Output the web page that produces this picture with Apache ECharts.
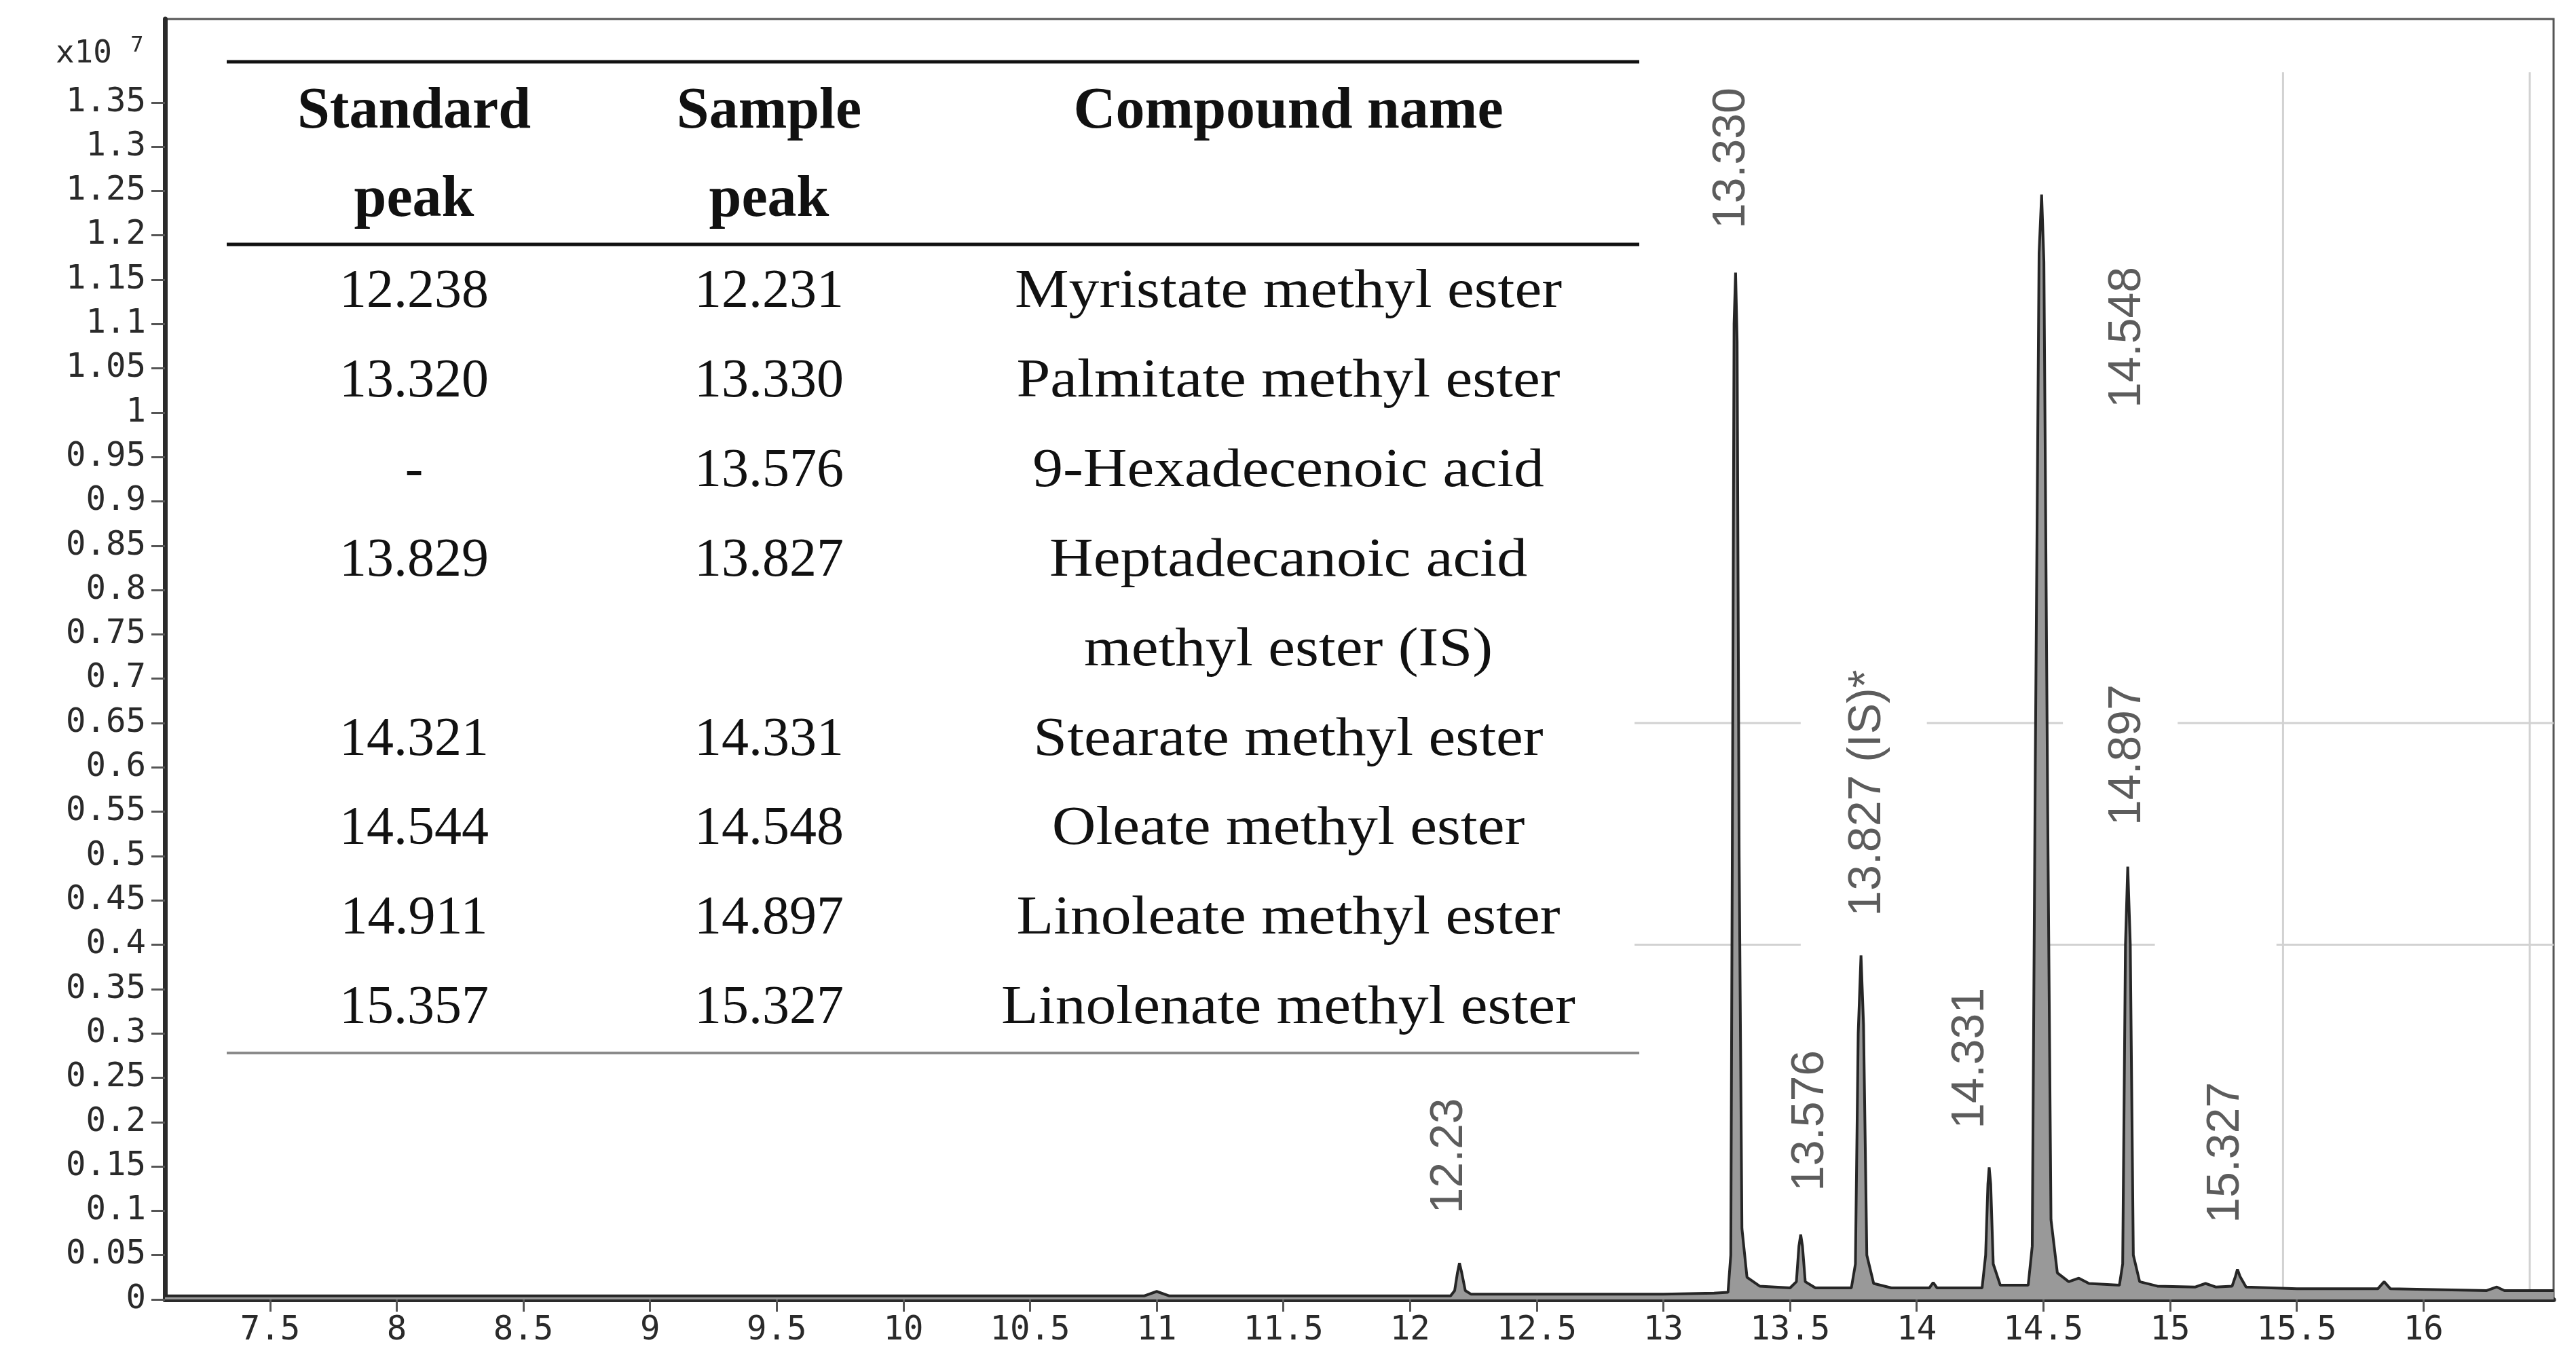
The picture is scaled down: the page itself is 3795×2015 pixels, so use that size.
<!DOCTYPE html>
<html><head><meta charset="utf-8">
<script src="https://cdn.jsdelivr.net/npm/echarts@6/dist/echarts.min.js"></script>
<style>html,body{margin:0;padding:0;background:#fff}#c{width:3795px;height:2015px}</style>
</head><body><div id="c"></div>
<script>
// ---------- DATA ----------
const xTicks = [7.5,8,8.5,9,9.5,10,10.5,11,11.5,12,12.5,13,13.5,14,14.5,15,15.5,16];
const xTickLabels = ['7.5','8','8.5','9','9.5','10','10.5','11','11.5','12','12.5','13','13.5','14','14.5','15','15.5','16'];
const yTicks = [0,0.05,0.1,0.15,0.2,0.25,0.3,0.35,0.4,0.45,0.5,0.55,0.6,0.65,0.7,0.75,0.8,0.85,0.9,0.95,1,1.05,1.1,1.15,1.2,1.25,1.3,1.35];
const yTickLabels = ['0','0.05','0.1','0.15','0.2','0.25','0.3','0.35','0.4','0.45','0.5','0.55','0.6','0.65','0.7','0.75','0.8','0.85','0.9','0.95','1','1.05','1.1','1.15','1.2','1.25','1.3','1.35'];
const yUnitLabel = 'x10';
const yUnitExp = '7';

// chromatogram trace (retention time, intensity x10^7)
const traceTime = [7.085,8.0,9.0,10.0,10.95,11.0,11.05,12.0,12.16,12.176,12.187,12.195,12.204,12.218,12.24,13.0,13.2,13.255,13.266,13.272,13.279,13.285,13.291,13.299,13.31,13.33,13.38,13.5,13.525,13.535,13.542,13.549,13.56,13.6,13.742,13.758,13.769,13.78,13.79,13.803,13.83,13.9,14.05,14.065,14.08,14.258,14.272,14.281,14.286,14.292,14.302,14.33,14.44,14.456,14.468,14.483,14.493,14.502,14.517,14.53,14.555,14.6,14.64,14.68,14.8,14.813,14.824,14.833,14.843,14.855,14.88,14.95,15.1,15.14,15.18,15.245,15.258,15.266,15.276,15.3,15.5,15.82,15.845,15.87,16.25,16.29,16.32,16.514];
const traceIntensity = [0.004,0.004,0.004,0.004,0.004,0.009,0.004,0.004,0.004,0.01,0.03,0.041,0.03,0.01,0.006,0.006,0.007,0.008,0.05,0.5,1.1,1.158,1.08,0.5,0.08,0.025,0.015,0.013,0.02,0.06,0.073,0.06,0.02,0.013,0.013,0.04,0.3,0.388,0.31,0.05,0.018,0.013,0.013,0.019,0.013,0.013,0.05,0.13,0.149,0.13,0.04,0.016,0.016,0.06,0.6,1.18,1.246,1.17,0.55,0.09,0.03,0.02,0.024,0.018,0.016,0.04,0.4,0.488,0.4,0.05,0.02,0.015,0.014,0.018,0.014,0.015,0.026,0.034,0.026,0.014,0.012,0.012,0.02,0.012,0.01,0.014,0.01,0.01];

// peak annotations
const peakLabels = ['12.23','13.330','13.576','13.827 (IS)*','14.331','14.548','14.897','15.327'];
const peakLabelTime = [12.155,13.27,13.582,13.807,14.212,14.833,14.833,15.221];
const peakLabelHeight = [0.162,1.287,0.2015,0.571,0.272,1.085,0.614,0.1655];

// remaining grid lines
const hGridValues = [0.65, 0.4];
const hGridSegments = [
  [[12.886,13.542],[14.04,14.577],[15.03,16.514]],
  [[12.886,13.542],[14.5,14.94],[15.42,16.514]]
];
const vGridValues = [15.446, 16.42];
const vGridTop = 1.384;

// table
const headerRow1 = ['Standard','Sample','Compound name'];
const headerRow2 = ['peak','peak',''];
const standardPeaks = ['12.238','13.320','-','13.829','','14.321','14.544','14.911','15.357'];
const samplePeaks = ['12.231','13.330','13.576','13.827','','14.331','14.548','14.897','15.327'];
const compoundNames = ['Myristate methyl ester','Palmitate methyl ester','9-Hexadecenoic acid','Heptadecanoic acid','methyl ester (IS)','Stearate methyl ester','Oleate methyl ester','Linoleate methyl ester','Linolenate methyl ester'];

// ---------- CHART ----------
const chart = echarts.init(document.getElementById('c'), null, {renderer:'canvas'});
const mono = '"DejaVu Sans Mono", monospace';
const serif = '"Liberation Serif", "Times New Roman", serif';
const sans = '"Liberation Sans", Arial, sans-serif';

function lbl(list, vals){ return v => { const i = vals.findIndex(t => Math.abs(t - v) < 1e-6); return i >= 0 ? list[i] : ''; }; }

const series = [];
hGridValues.forEach((y, k) => {
  hGridSegments[k].forEach(seg => {
    series.push({type:'line', data:[[seg[0], y],[seg[1], y]], symbol:'none', silent:true, z:1,
      lineStyle:{color:'#d2d2d2', width:3}});
  });
});
vGridValues.forEach(x => {
  series.push({type:'line', data:[[x, 0],[x, vGridTop]], symbol:'none', silent:true, z:1,
    lineStyle:{color:'#d2d2d2', width:3}});
});
series.push({
  type:'line', data: traceTime.map((t,i)=>[t, traceIntensity[i]]), symbol:'none', sampling:'none',
  z:3, lineStyle:{color:'#262626', width:4}, areaStyle:{color:'#999', opacity:1}
});
series.push({
  type:'scatter', data: peakLabelTime.map((t,i)=>[t, peakLabelHeight[i]]), symbolSize:0, z:4, silent:true,
  label:{show:true, position:'inside', rotate:90, formatter: p => peakLabels[p.dataIndex],
    fontFamily:sans, fontSize:68, color:'#333'}
});

const G = [];
const T_LEFT = 334, T_RIGHT = 2415;
G.push({type:'line', shape:{x1:T_LEFT,y1:91,x2:T_RIGHT,y2:91}, style:{stroke:'#111', lineWidth:5}});
G.push({type:'line', shape:{x1:T_LEFT,y1:360,x2:T_RIGHT,y2:360}, style:{stroke:'#111', lineWidth:5}});
G.push({type:'line', shape:{x1:T_LEFT,y1:1551,x2:T_RIGHT,y2:1551}, style:{stroke:'#8a8a8a', lineWidth:4}});
const colX = [610, 1133, 1898];
function txt(t, x, y, weight, size, sx){
  return {type:'text', x:x, y:y, scaleX:sx, style:{text:t, fill:'#111', fontFamily:serif, fontSize:size, fontWeight:weight, align:'center', verticalAlign:'middle'}};
}
headerRow1.forEach((t,i)=>{ if(t) G.push(txt(t, colX[i], 166, 'bold', 86, 1)); });
headerRow2.forEach((t,i)=>{ if(t) G.push(txt(t, colX[i], 296, 'bold', 86, 1)); });
for (let r = 0; r < compoundNames.length; r++) {
  const y = 431 + r * 131.9;
  if (standardPeaks[r]) G.push(txt(standardPeaks[r], colX[0], y, 'normal', 80, 1));
  if (samplePeaks[r]) G.push(txt(samplePeaks[r], colX[1], y, 'normal', 80, 1));
  if (compoundNames[r]) G.push(txt(compoundNames[r], colX[2], y, 'normal', 80, 1.12));
}
G.push({type:'text', x:165, y:80, style:{text:yUnitLabel, fill:'#2a2a2a', fontFamily:mono, fontSize:46, align:'right', verticalAlign:'middle'}});
G.push({type:'text', x:202, y:68, style:{text:yUnitExp, fill:'#2a2a2a', fontFamily:mono, fontSize:32, align:'center', verticalAlign:'middle'}});

chart.setOption({
  animation:false,
  backgroundColor:'#fff',
  grid:{left:243, right:33, top:28, bottom:101, show:true, borderColor:'#555', borderWidth:3, containLabel:false, outerBoundsMode:'none'},
  xAxis:{type:'value', min:7.085, max:16.514,
    axisLine:{show:true, lineStyle:{color:'#2a2a2a', width:7}},
    axisTick:{show:true, customValues:xTicks, length:18, lineStyle:{color:'#555', width:3}},
    axisLabel:{show:true, customValues:xTicks, formatter: lbl(xTickLabels, xTicks), fontFamily:mono, fontSize:49, color:'#2a2a2a', margin:22},
    splitLine:{show:false}},
  yAxis:{type:'value', min:0, max:1.444,
    axisLine:{show:true, lineStyle:{color:'#2a2a2a', width:7}},
    axisTick:{show:true, customValues:yTicks, length:20, lineStyle:{color:'#555', width:3}},
    axisLabel:{show:true, customValues:yTicks, formatter: lbl(yTickLabels, yTicks), fontFamily:mono, fontSize:49, color:'#2a2a2a', margin:28},
    splitLine:{show:false}},
  series: series,
  graphic: G
});
</script>
</body></html>
